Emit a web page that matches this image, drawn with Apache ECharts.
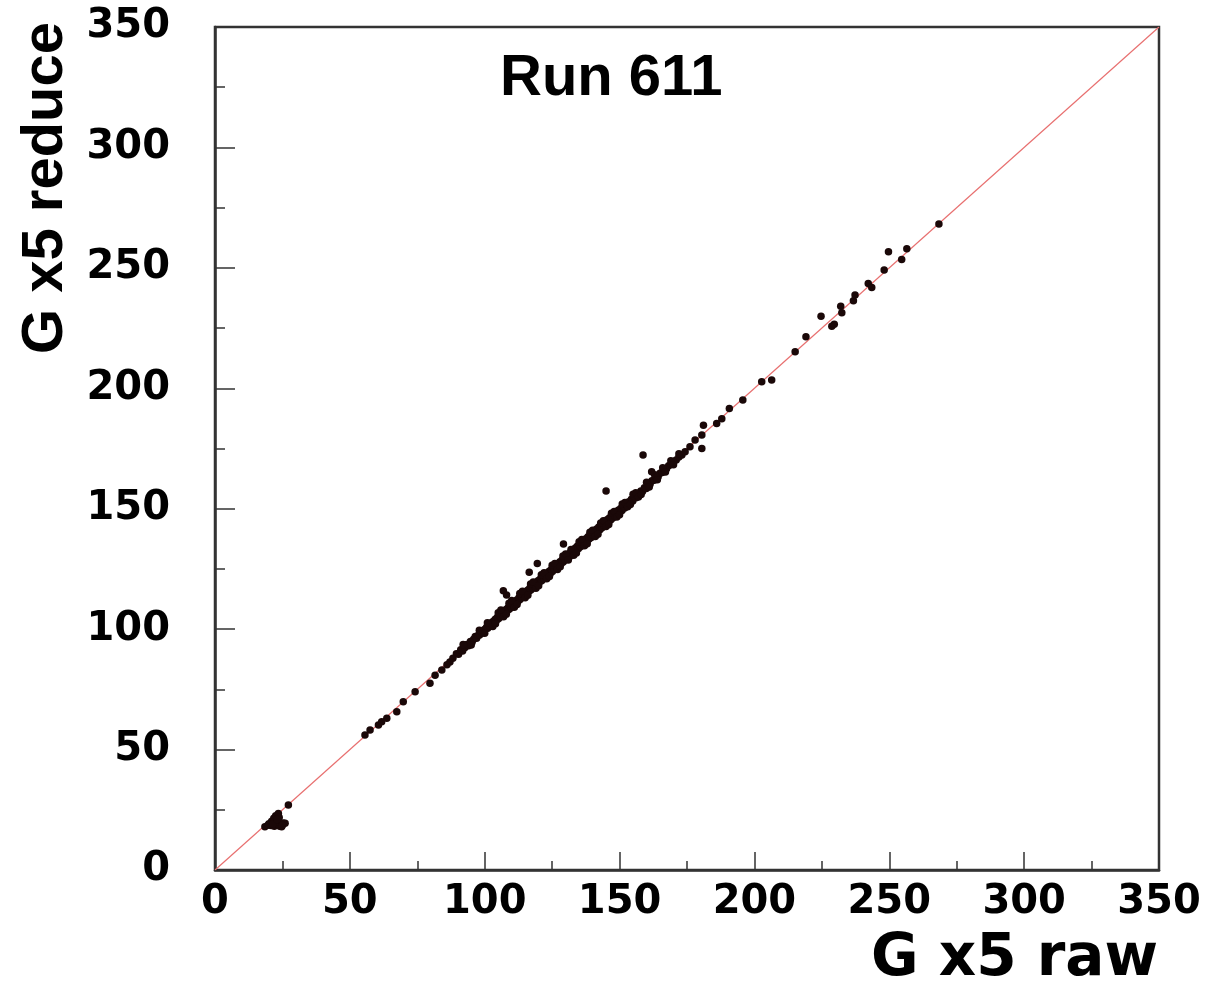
<!DOCTYPE html>
<html>
<head>
<meta charset="utf-8">
<script src="https://cdn.jsdelivr.net/npm/echarts@6/dist/echarts.min.js"></script>
<style>
html,body{margin:0;padding:0;background:#fff;}
#chart{width:1207px;height:986px;}
</style>
</head>
<body>
<div id="chart"></div>
<script>
// ---- data (raw, reduce) ----
var xTicks = [0, 50, 100, 150, 200, 250, 300, 350];
var yTicks = [0, 50, 100, 150, 200, 250, 300, 350];
var diagRaw = [0, 350];
var diagReduce = [0, 350];

var lowCluster = [
  [18.5,18.0],[19.6,18.6],[20.0,19.2],[20.8,18.5],[21.0,20.2],[21.8,21.5],[22.0,18.2],
  [22.5,22.5],[22.8,19.3],[23.2,20.0],[23.5,23.5],[23.8,21.8],[24.0,18.2],[24.7,18.0],
  [25.3,19.5],[26.0,19.4],[27.2,27.0],[21.4,19.0],[23.0,21.0],[25.0,18.6]
];
var midPoints = [
  [55.6,56.0],[57.5,58.1],[60.6,60.2],[61.8,61.6],[63.7,63.0],[67.4,65.7],[69.8,69.9],
  [74.2,74.0],[79.7,77.5],[81.6,80.9],[84.1,83.0],[87.1,86.4],[86.0,85.2]
];
var denseBand = [
  [88.2,87.9],[89.5,89.8],[90.3,89.6],[91.1,91.4],[91.8,90.9],[92.6,92.3],[93.4,93.6],
  [94.0,93.1],[94.7,94.9],[95.3,94.6],[95.9,95.8],[96.5,96.9],[97.0,96.2],[97.6,97.5],
  [98.1,97.6],[98.7,98.9],[99.2,98.4],[99.8,99.7],
  [100.3,100.1],[100.7,100.8],[101.1,100.4],[101.5,101.6],[101.9,101.2],[102.3,102.5],
  [102.7,101.9],[103.1,103.2],[103.5,102.8],[103.9,104.1],[104.3,103.6],[104.7,104.9],
  [105.1,104.3],[105.5,105.6],[105.9,105.1],[106.3,106.7],[106.7,105.9],[107.1,107.4],
  [107.5,106.8],[107.9,108.2],[108.3,107.5],[108.7,109.0],[109.1,108.3],[109.5,109.8],
  [109.9,109.0],[110.3,110.5],[110.7,109.9],[111.1,111.4],[111.5,110.8],[111.9,112.1],
  [112.3,111.5],[112.7,113.0],[113.1,112.3],[113.5,113.8],[113.9,113.1],[114.3,114.6],
  [114.7,113.9],[115.1,115.5],[115.5,114.7],[115.9,116.1],[116.3,115.6],[116.7,117.0],
  [117.1,116.3],[117.5,117.9],[117.9,117.1],[118.3,118.6],[118.7,117.8],[119.1,119.5],
  [119.5,118.7],[119.9,120.2],[120.3,119.6],[120.7,120.9],[121.1,120.1],[121.5,121.6],
  [121.9,120.9],[122.3,122.4],[122.7,121.6],[123.1,123.2],[123.5,122.4],[123.9,124.0],
  [124.3,123.1],[124.7,124.8],[125.1,123.9],[125.5,125.5],[125.9,124.8],[126.3,126.4],
  [126.7,125.5],[127.1,127.1],[127.5,126.4],[127.9,128.0],[128.3,127.1],[128.7,128.7],
  [129.1,127.9],[129.5,129.6],[129.9,128.7],
  [130.3,130.4],[130.7,129.5],[131.1,131.2],[131.5,130.2],[131.9,131.9],[132.3,131.1],
  [132.7,132.8],[133.1,131.8],[133.5,133.6],[133.9,132.6],[134.3,134.4],[134.7,133.4],
  [135.1,135.2],[135.5,134.2],[135.9,136.0],[136.3,135.0],[136.7,136.8],[137.1,135.8],
  [137.5,137.5],[137.9,136.6],[138.3,138.4],[138.7,137.4],[139.1,139.2],[139.5,138.1],
  [139.9,140.0],[140.3,139.0],[140.7,140.8],[141.1,139.7],[141.5,141.6],[141.9,140.5],
  [142.3,142.4],[142.7,141.3],[143.1,143.1],[143.5,142.1],[143.9,143.9],[144.3,142.9],
  [144.7,144.7],[145.1,143.7],[145.5,145.5],[145.9,144.5],[146.3,146.3],[146.7,145.3],
  [147.1,147.0],[147.5,146.1],[147.9,147.8],[148.3,146.9],[148.7,148.6],[149.1,147.7],
  [149.5,149.4],[149.9,148.5],[150.4,150.1],[150.9,149.3],[151.4,151.0],[151.9,150.3],
  [152.4,152.0],[152.9,151.3],[153.4,152.9],[153.9,152.3],[154.4,153.9],[154.9,153.2],
  [155.5,155.0],[156.1,154.6],[156.7,156.2],[157.3,155.9],[157.9,157.4],[158.5,157.1],
  [159.2,158.7],[159.9,158.4],
  [160.6,160.2],[161.3,160.2],[162.0,161.6],[162.8,161.8],[163.5,163.2],[164.3,163.3],
  [165.0,164.7],[165.8,165.0],[166.6,166.3],[167.4,166.6],[168.2,167.8],[169.1,168.4],
  [170.0,169.6],[171.0,170.2],[172.0,171.5],[173.1,172.3]
];
var bandSpread = [
  [92.0,93.6],[95.0,93.4],[98.0,99.5],[100.0,98.3],[101.0,102.7],[103.0,101.1],
  [104.0,102.2],[105.0,106.8],[106.0,107.9],[107.0,105.1],[108.0,106.2],[109.0,110.8],
  [110.0,111.9],[111.0,109.1],[112.0,110.2],[113.0,114.8],[114.0,115.7],[115.0,113.0],
  [116.0,114.1],[117.0,118.7],[118.0,119.6],[119.0,117.0],[120.0,118.0],[121.0,122.6],
  [122.0,123.4],[123.0,120.9],[124.0,121.9],[125.0,126.5],[126.0,127.3],[127.0,124.8],
  [128.0,125.9],[129.0,130.4],[130.0,131.2],[131.0,128.7],[132.0,133.1],[133.0,130.7],
  [134.0,131.6],[135.0,136.3],[136.0,137.2],[137.0,134.6],[138.0,135.5],[139.0,140.2],
  [140.0,141.1],[141.0,138.5],[142.0,139.4],[143.0,144.1],[144.0,145.0],[145.0,142.6],
  [146.0,143.4],[147.0,148.1],[148.0,148.8],[149.0,146.6],[150.0,147.5],[151.0,152.0],
  [152.0,152.6],[153.0,150.8],[154.0,151.7],[155.0,156.0],[156.0,156.6],[157.0,154.9],
  [158.0,155.9],[160.0,161.0],[161.0,159.0],[163.0,164.1],[164.0,162.0],[166.0,167.0],
  [167.0,165.2],[169.0,169.9],[170.0,168.3],[172.0,172.8]
];
var outliers = [
  [158.7,172.3],[145.0,157.4],[129.2,135.3],[119.5,127.3],[116.5,123.6],
  [106.9,115.9],[108.1,114.2],[161.9,165.3]
];
var highPoints = [
  [174.3,173.6],[176.1,175.7],[178.0,178.5],[180.5,180.6],[180.5,175.0],[181.1,184.7],
  [186.0,185.4],[187.9,187.4],[190.7,191.6],[195.7,195.1],[202.7,202.7],[206.4,203.4],
  [215.1,215.2],[219.1,221.4],[224.7,229.9],[228.7,225.8],[229.6,226.6],[232.0,234.1],
  [232.4,231.4],[236.7,236.3],[237.3,238.7],[242.2,243.5],[243.5,241.8],[248.1,249.1],
  [249.7,256.7],[254.6,253.5],[256.5,257.9],[268.4,268.2]
];

var points = lowCluster.concat(midPoints, denseBand, bandSpread, outliers, highPoints);
var diagLine = diagRaw.map(function (v, i) { return [v, diagReduce[i]]; });

var chart = echarts.init(document.getElementById('chart'), null, {renderer: 'canvas'});
var tickFont = {fontFamily: 'DejaVu Sans', fontWeight: 'bold', fontSize: 40, color: '#000'};
var frameColor = '#333';

chart.setOption({
  animation: false,
  backgroundColor: '#fff',
  grid: {left: 215, right: 48, top: 27, bottom: 116, show: true, borderColor: frameColor, borderWidth: 2.5, backgroundColor: 'transparent'},
  xAxis: {
    type: 'value', min: 0, max: 350, interval: 50,
    axisLine: {show: true, onZero: false, lineStyle: {color: frameColor, width: 2.5}},
    axisTick: {show: true, inside: true, length: 18, lineStyle: {color: frameColor, width: 1.5}},
    minorTick: {show: true, splitNumber: 2, length: 9, lineStyle: {color: frameColor, width: 1.5}},
    splitLine: {show: false},
    axisLabel: Object.assign({margin: 13, formatter: function (v) { return xTicks.indexOf(v) >= 0 ? String(v) : ''; }}, tickFont)
  },
  yAxis: {
    type: 'value', min: 0, max: 350, interval: 50,
    axisLine: {show: true, onZero: false, lineStyle: {color: frameColor, width: 2.5}},
    axisTick: {show: true, inside: true, length: 20, lineStyle: {color: frameColor, width: 1.5}},
    minorTick: {show: true, splitNumber: 2, length: 10, lineStyle: {color: frameColor, width: 1.5}},
    splitLine: {show: false},
    axisLabel: Object.assign({margin: 45, formatter: function (v) { return yTicks.indexOf(v) >= 0 ? String(v) : ''; }}, tickFont)
  },
  series: [
    {
      type: 'line', data: diagLine, showSymbol: false, symbol: 'none',
      lineStyle: {color: '#e87070', width: 1.2}, silent: true, z: 1
    },
    {
      type: 'scatter', data: points, symbol: 'circle', symbolSize: 7.5,
      itemStyle: {color: '#1a0808', opacity: 1}, silent: true, z: 2
    }
  ],
  graphic: [
    {type: 'text', left: 500, top: 50, z: 10,
     style: {text: 'Run 611', fontFamily: 'Liberation Sans', fontWeight: 'bold', fontSize: 58, fill: '#000'}},
    {type: 'text', x: 1158, y: 960, z: 10,
     style: {text: 'G x5 raw', fontFamily: 'DejaVu Sans', fontWeight: 'bold', fontSize: 58, fill: '#000', textAlign: 'right', textVerticalAlign: 'middle'}},
    {type: 'text', x: 46, y: 188, rotation: Math.PI / 2, z: 10,
     style: {text: 'G x5 reduce', fontFamily: 'Liberation Sans', fontWeight: 'bold', fontSize: 58, fill: '#000', textAlign: 'center', textVerticalAlign: 'middle'}}
  ]
});
</script>
</body>
</html>
